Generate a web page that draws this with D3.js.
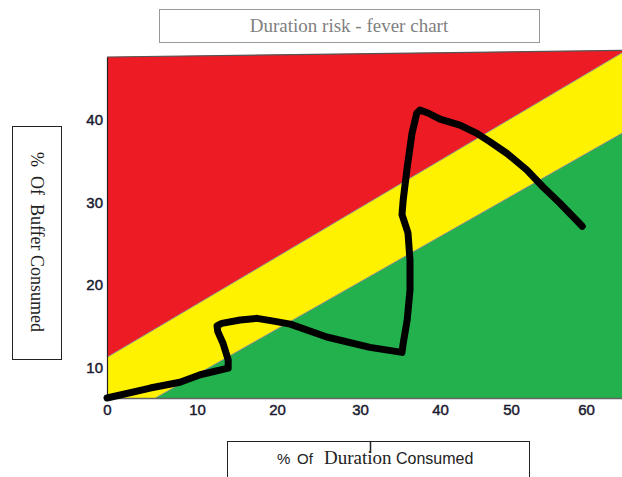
<!DOCTYPE html>
<html>
<head>
<meta charset="utf-8">
<script src="https://cdn.jsdelivr.net/npm/d3@7"></script>
<style>
  body { margin: 0; background: #fff; }
  svg { display: block; }
</style>
</head>
<body>
<svg id="chart" width="622" height="477"></svg>
<script>
// axis ticks
const xTicks = [0, 10, 20, 30, 40, 50, 60];
const yTicks = [10, 20, 30, 40];

// band boundaries (x in % duration, y in % buffer)
const edgeX = [0, 65];
const topY = [47.5, 48.3];
const upperY = [11.3, 48.0];      // red / yellow
const lowerX = [5.4, 65];
const lowerY = [6.4, 38.3];       // yellow / green
const baseY = 6.4;

// fever line
const feverX = [0, 4.8, 8.1, 10.4, 13.9, 13.9, 13.25, 12.6, 12.5, 13.1, 15.4, 17.5, 19.4, 21.6,
  26.0, 31.25, 35.25, 35.4, 35.9, 36.25, 36.25, 36.0, 35.25, 35.4, 35.9, 36.5, 37.1, 37.5,
  38.5, 40.0, 42.8, 45.2, 47.0, 49.4, 52.1, 54.3, 56.5, 59.5];
const feverY = [6.4, 7.6, 8.3, 9.2, 10.0, 11.0, 13.0, 14.4, 15.1, 15.4, 15.8, 16.0, 15.7, 15.3,
  13.75, 12.5, 11.9, 13.0, 15.8, 19.4, 23.0, 26.3, 28.5, 30.3, 34.2, 38.3, 40.75, 41.1,
  40.75, 40.0, 39.3, 38.3, 37.3, 35.9, 33.9, 31.8, 29.9, 27.1];

const svg = d3.select('#chart');

// hand-drawn axis: the labels are not evenly spaced
const x = d3.scaleLinear()
  .domain([0, 10, 20, 30, 40, 50, 60, 65])
  .range([107, 197, 277, 360, 440, 511, 586, 622]);

const y = d3.scaleLinear()
  .domain([baseY, 47.5])
  .range([398, 57]);

const area = d3.line().x(d => x(d[0])).y(d => y(d[1]));

// bands
const red = [[edgeX[0], upperY[0]], [edgeX[0], topY[0]], [edgeX[1], topY[1]], [edgeX[1], upperY[1]]];
const yellow = [[edgeX[0], baseY], [edgeX[0], upperY[0]], [edgeX[1], upperY[1]],
  [edgeX[1], lowerY[1]], [lowerX[0], lowerY[0]]];
const green = [[lowerX[0], lowerY[0]], [lowerX[1], lowerY[1]], [edgeX[1], baseY]];

svg.append('path').attr('d', area(red) + 'Z').attr('fill', '#ed1c24');
svg.append('path').attr('d', area(yellow) + 'Z').attr('fill', '#fff200');
svg.append('path').attr('d', area(green) + 'Z').attr('fill', '#22b14c');

// band edges
svg.append('path')
  .attr('d', area([[edgeX[0], upperY[0]], [edgeX[1], upperY[1]]]))
  .attr('stroke', '#8a8a8a').attr('stroke-width', 1).attr('fill', 'none');
svg.append('path')
  .attr('d', area([[lowerX[0], lowerY[0]], [lowerX[1], lowerY[1]]]))
  .attr('stroke', '#8a8a8a').attr('stroke-width', 1).attr('fill', 'none');
svg.append('path')
  .attr('d', area([[edgeX[0], topY[0]], [edgeX[1], topY[1]]]))
  .attr('stroke', '#555').attr('stroke-width', 1.2).attr('fill', 'none');

// axes
const xAxis = svg.append('g')
  .attr('transform', `translate(0,${y(baseY)})`)
  .call(d3.axisBottom(x).tickValues(xTicks).tickSize(0).tickPadding(6));
xAxis.select('.domain').attr('stroke', '#666').attr('stroke-width', 1.5);

const yAxis = svg.append('g')
  .attr('transform', `translate(${x(0)},0)`)
  .call(d3.axisLeft(y).tickValues(yTicks).tickSize(0).tickPadding(4));
yAxis.select('.domain').attr('stroke', '#222').attr('stroke-width', 1.2);

svg.selectAll('.tick text')
  .attr('font-family', 'Liberation Sans, Arial, sans-serif')
  .attr('font-size', 15)
  .attr('fill', '#1a1a30')
  .attr('stroke', '#1a1a30')
  .attr('stroke-width', 0.45);

// fever line
const fever = feverX.map((d, i) => [d, feverY[i]]);
svg.append('path')
  .datum(fever)
  .attr('d', d3.line().x(d => x(d[0])).y(d => y(d[1])))
  .attr('fill', 'none')
  .attr('stroke', '#000')
  .attr('stroke-width', 7)
  .attr('stroke-linejoin', 'round')
  .attr('stroke-linecap', 'round');

// title box
svg.append('rect')
  .attr('x', 159.5).attr('y', 9.5).attr('width', 380).attr('height', 33)
  .attr('fill', '#fff').attr('stroke', '#999');
svg.append('text')
  .attr('x', 349).attr('y', 32)
  .attr('text-anchor', 'middle')
  .attr('font-family', 'Liberation Serif, Times New Roman, serif')
  .attr('font-size', 19)
  .attr('fill', '#808080')
  .text('Duration risk - fever chart');

// y label box
svg.append('rect')
  .attr('x', 12.5).attr('y', 126.5).attr('width', 49).attr('height', 233)
  .attr('fill', '#fff').attr('stroke', '#222');
svg.append('text')
  .attr('transform', 'translate(31,242) rotate(90)')
  .attr('text-anchor', 'middle')
  .attr('font-family', 'Liberation Serif, Times New Roman, serif')
  .attr('font-size', 18)
  .attr('fill', '#222')
  .attr('xml:space', 'preserve')
  .text('%  Of  Buffer Consumed');

// x label box
svg.append('rect')
  .attr('x', 227.5).attr('y', 441.5).attr('width', 302).attr('height', 50)
  .attr('fill', '#fff').attr('stroke', '#222');
svg.append('line')
  .attr('x1', 370.5).attr('x2', 370.5).attr('y1', 441).attr('y2', 453)
  .attr('stroke', '#222').attr('stroke-width', 1.5);
const xl = svg.append('text')
  .attr('y', 464)
  .attr('fill', '#222');
xl.append('tspan').attr('x', 277).attr('font-family', 'Liberation Sans, Arial, sans-serif')
  .attr('font-size', 15).text('%');
xl.append('tspan').attr('x', 297).attr('font-family', 'Liberation Sans, Arial, sans-serif')
  .attr('font-size', 15).text('Of');
xl.append('tspan').attr('x', 324).attr('font-family', 'Liberation Serif, Times New Roman, serif')
  .attr('font-size', 19).text('Duration');
xl.append('tspan').attr('x', 396).attr('font-family', 'Liberation Sans, Arial, sans-serif')
  .attr('font-size', 16).text('Consumed');
</script>
</body>
</html>
